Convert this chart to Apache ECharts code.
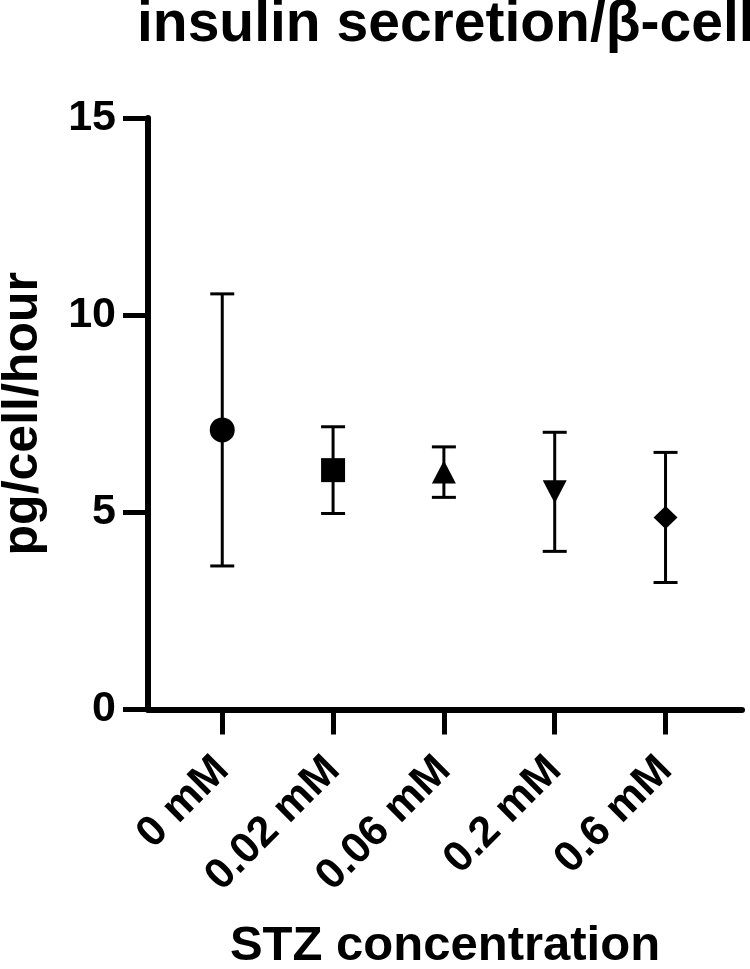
<!DOCTYPE html>
<html>
<head>
<meta charset="utf-8">
<script src="https://cdn.jsdelivr.net/npm/echarts@6/dist/echarts.min.js"></script>
<style>
  html, body { margin: 0; padding: 0; background: #fff; }
  #chart { width: 750px; height: 969px; }
</style>
</head>
<body>
<div id="chart"></div>
<script>
// data (mean +/- error)
const categories = ['0 mM', '0.02 mM', '0.06 mM', '0.2 mM', '0.6 mM'];
const means = [7.09, 6.07, 6.02, 5.52, 4.87];
const errors = [3.45, 1.10, 0.64, 1.51, 1.65];
const symbols = ['circle', 'rect', 'triangle', 'triangle', 'diamond'];
const symbolRotations = [0, 0, 0, 180, 0];
const symbolSizes = [25, 24, [24, 23], [24, 23], [24, 23]];
const yTicks = [0, 5, 10, 15];
const tickIdx = categories.map((c, i) => i);

const font = '"Liberation Sans", Arial, sans-serif';

const pointData = means.map((m, i) => ({
  value: [i, m],
  symbol: symbols[i],
  symbolRotate: symbolRotations[i],
  symbolSize: symbolSizes[i]
}));
const barData = means.map((m, i) => [i, m + errors[i], m - errors[i]]);

const chart = echarts.init(document.getElementById('chart'));

const option = {
  backgroundColor: '#fff',
  animation: false,
  title: {
    text: 'insulin secretion/β-cell',
    left: 137,
    top: -3,
    padding: 0,
    textStyle: { fontFamily: font, fontSize: 57, fontWeight: 'bold', color: '#000' }
  },
  grid: {
    left: 148,
    right: 8,
    top: 118,
    bottom: 259.5,
    containLabel: false,
    outerBoundsMode: 'none'
  },
  xAxis: {
    type: 'value',
    min: -0.67,
    max: 4.69,
    name: 'STZ concentration',
    nameLocation: 'middle',
    nameGap: 212,
    nameTextStyle: { fontFamily: font, fontSize: 49, fontWeight: 'bold', color: '#000' },
    splitLine: { show: false },
    axisLine: { show: true, onZero: false, lineStyle: { color: '#000', width: 6 } },
    axisTick: {
      show: true,
      customValues: tickIdx,
      length: 25,
      lineStyle: { color: '#000', width: 5 }
    },
    axisLabel: {
      customValues: tickIdx,
      formatter: (v) => categories[Math.round(v)],
      rotate: 45,
      margin: 54,
      fontFamily: font,
      fontSize: 43,
      fontWeight: 'bold',
      color: '#000'
    }
  },
  yAxis: {
    type: 'value',
    min: 0,
    max: 15,
    interval: 5,
    name: 'pg/cell/hour',
    nameLocation: 'middle',
    nameGap: 100,
    nameTextStyle: { fontFamily: font, fontSize: 50, fontWeight: 'bold', color: '#000' },
    splitLine: { show: false },
    axisLine: { show: true, onZero: false, lineStyle: { color: '#000', width: 6 } },
    axisTick: { show: true, length: 25, lineStyle: { color: '#000', width: 5 } },
    axisLabel: {
      margin: 32,
      fontFamily: font,
      fontSize: 43,
      fontWeight: 'bold',
      color: '#000',
      formatter: (v) => (yTicks.indexOf(v) >= 0 ? String(v) : '')
    }
  },
  series: [
    {
      type: 'custom',
      name: 'error',
      z: 2,
      encode: { x: 0, y: [1, 2] },
      data: barData,
      renderItem: (params, api) => {
        const x = api.value(0);
        const top = api.coord([x, api.value(1)]);
        const bot = api.coord([x, api.value(2)]);
        const w = 12;
        const st = { stroke: '#000', lineWidth: 3 };
        return {
          type: 'group',
          children: [
            { type: 'line', shape: { x1: top[0], y1: top[1], x2: bot[0], y2: bot[1] }, style: st },
            { type: 'line', shape: { x1: top[0] - w, y1: top[1], x2: top[0] + w, y2: top[1] }, style: st },
            { type: 'line', shape: { x1: bot[0] - w, y1: bot[1], x2: bot[0] + w, y2: bot[1] }, style: st }
          ]
        };
      }
    },
    {
      type: 'scatter',
      name: 'mean',
      z: 3,
      data: pointData,
      itemStyle: { color: '#000', opacity: 1 }
    }
  ]
};

chart.setOption(option);
</script>
</body>
</html>
